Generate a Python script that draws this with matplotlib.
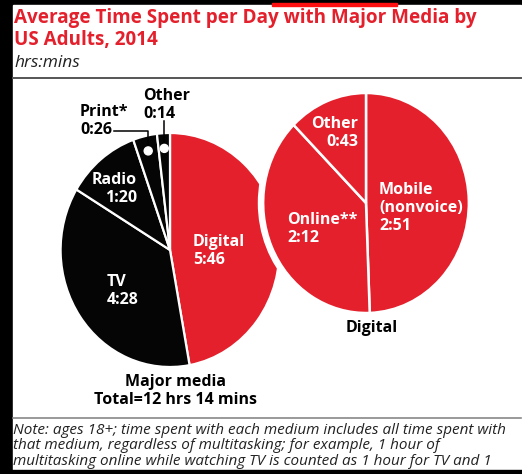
import matplotlib
matplotlib.use("Agg")
import matplotlib.pyplot as plt
from matplotlib.patches import Rectangle, Ellipse
import numpy as np

# data (minutes per day)
major_labels = ["Digital", "TV", "Radio", "Print*", "Other"]
major_values = [346, 268, 80, 26, 14]   # 5:46, 4:28, 1:20, 0:26, 0:14
digital_labels = ["Mobile\n(nonvoice)", "Online**", "Other"]
digital_values = [171, 132, 43]         # 2:51, 2:12, 0:43

RED = "#e3202b"
BLACK = "#050505"
FONT = ["Open Sans", "DejaVu Sans"]

W, H = 522, 474
SX = 0.935  # the original picture is slightly squashed horizontally


def X(px):
    return px / SX


def Y(py):
    return H - py


def hm(m):
    return "%d:%02d" % (m // 60, m % 60)


fig = plt.figure(figsize=(W / 100, H / 100), dpi=100)
fig.patch.set_facecolor("black")
ax = fig.add_axes([0, 0, 1, 1])

# white panel
ax.add_patch(Rectangle((X(13), Y(470)), X(521) - X(13), 465, color="white", zorder=0))
ax.add_patch(Rectangle((X(272), Y(5.5)), X(397) - X(272), 2.5, color="#ff1010", zorder=5))

# title
ax.text(X(14), Y(18), "Average Time Spent per Day with Major Media by", color=RED,
        fontsize=13.6, fontweight="bold", family=FONT, va="center", ha="left")
ax.text(X(14), Y(40), "US Adults, 2014", color=RED,
        fontsize=13.6, fontweight="bold", family=FONT, va="center", ha="left")
ax.text(X(14), Y(63), "hrs:mins", color="#222222", fontsize=12.5, style="italic",
        family=FONT, va="center", ha="left")
ax.plot([X(13), X(521)], [Y(78), Y(78)], color="#555555", lw=1.4)

# left pie: major media
lc = (X(170), Y(250))
lr = 117
w1, _ = ax.pie(major_values, colors=[RED, BLACK, BLACK, BLACK, BLACK],
               startangle=90, counterclock=False, center=lc, radius=lr,
               explode=[0.03, 0, 0, 0, 0],
               wedgeprops=dict(edgecolor="white", linewidth=1.6))

# markers for the tiny slices
ang = 90 - np.cumsum([0] + major_values)[:-1] / sum(major_values) * 360
mid = ang - np.array(major_values) / sum(major_values) * 180
for i in (3, 4):
    a = np.deg2rad(mid[i])
    px, py = lc[0] + 0.87 * lr * np.cos(a), lc[1] + 0.87 * lr * np.sin(a)
    ax.add_patch(Ellipse((px, py), 8 / SX, 8, facecolor="white", edgecolor="white", zorder=4))
    if i == 3:
        ax.plot([X(114), px, px], [Y(131), Y(131), py], color="black", lw=1.1, zorder=3)
    else:
        ax.plot([px, px], [Y(121), py], color="black", lw=1.1, zorder=3)

# right pie: digital
rc = (X(366), Y(203))
rr = 110
ax.add_patch(Ellipse(rc, 2 * (rr + 5), 2 * (rr + 5), color="white", zorder=2))
w2, _ = ax.pie(digital_values, colors=[RED, RED, RED], startangle=90,
               counterclock=False, center=rc, radius=rr,
               wedgeprops=dict(edgecolor="white", linewidth=1.8, zorder=3))

# labels
bold = dict(fontweight="bold", family=FONT, fontsize=11.5, linespacing=1.15, va="center")
ax.text(X(80), Y(121), "Print*\n" + hm(major_values[3]), color="black", ha="left", **bold)
ax.text(X(143), Y(105), "Other\n" + hm(major_values[4]), color="black", ha="left", **bold)
ax.text(X(137), Y(189), "Radio\n" + hm(major_values[2]), color="white", ha="right",
        multialignment="right", zorder=6, **bold)
ax.text(X(107), Y(291), "TV\n" + hm(major_values[1]), color="white", ha="left", zorder=6, **bold)
ax.text(X(193), Y(251), "Digital\n" + hm(major_values[0]), color="white", ha="left", zorder=6, **bold)
ax.text(X(175), Y(391), "Major media\nTotal=12 hrs 14 mins", color="black", ha="center",
        multialignment="center", **bold)

ax.text(X(358), Y(133), "Other\n" + hm(digital_values[2]), color="white", ha="right",
        multialignment="right", zorder=6, **bold)
ax.text(X(287), Y(229), "Online**\n" + hm(digital_values[1]), color="white", ha="left", zorder=6, **bold)
ax.text(X(379), Y(208), "Mobile\n(nonvoice)\n" + hm(digital_values[0]), color="white", ha="left",
        zorder=6, **bold)
ax.text(X(372), Y(328), "Digital", color="black", ha="center", **bold)

# note
ax.plot([X(13), X(521)], [Y(418), Y(418)], color="#888888", lw=1.2)
note = ("Note: ages 18+; time spent with each medium includes all time spent with\n"
        "that medium, regardless of multitasking; for example, 1 hour of\n"
        "multitasking online while watching TV is counted as 1 hour for TV and 1")
ax.text(X(13), Y(423), note, color="#222222", fontsize=11.0, style="italic", family=FONT,
        va="top", ha="left", linespacing=1.04)
ax.add_patch(Rectangle((0, 0), X(W), H - 470, color="black", zorder=10))

ax.set_xlim(0, X(W))
ax.set_ylim(0, H)
ax.set_aspect("auto")
ax.axis("off")

fig.savefig("out.png", dpi=100, facecolor=fig.get_facecolor())
